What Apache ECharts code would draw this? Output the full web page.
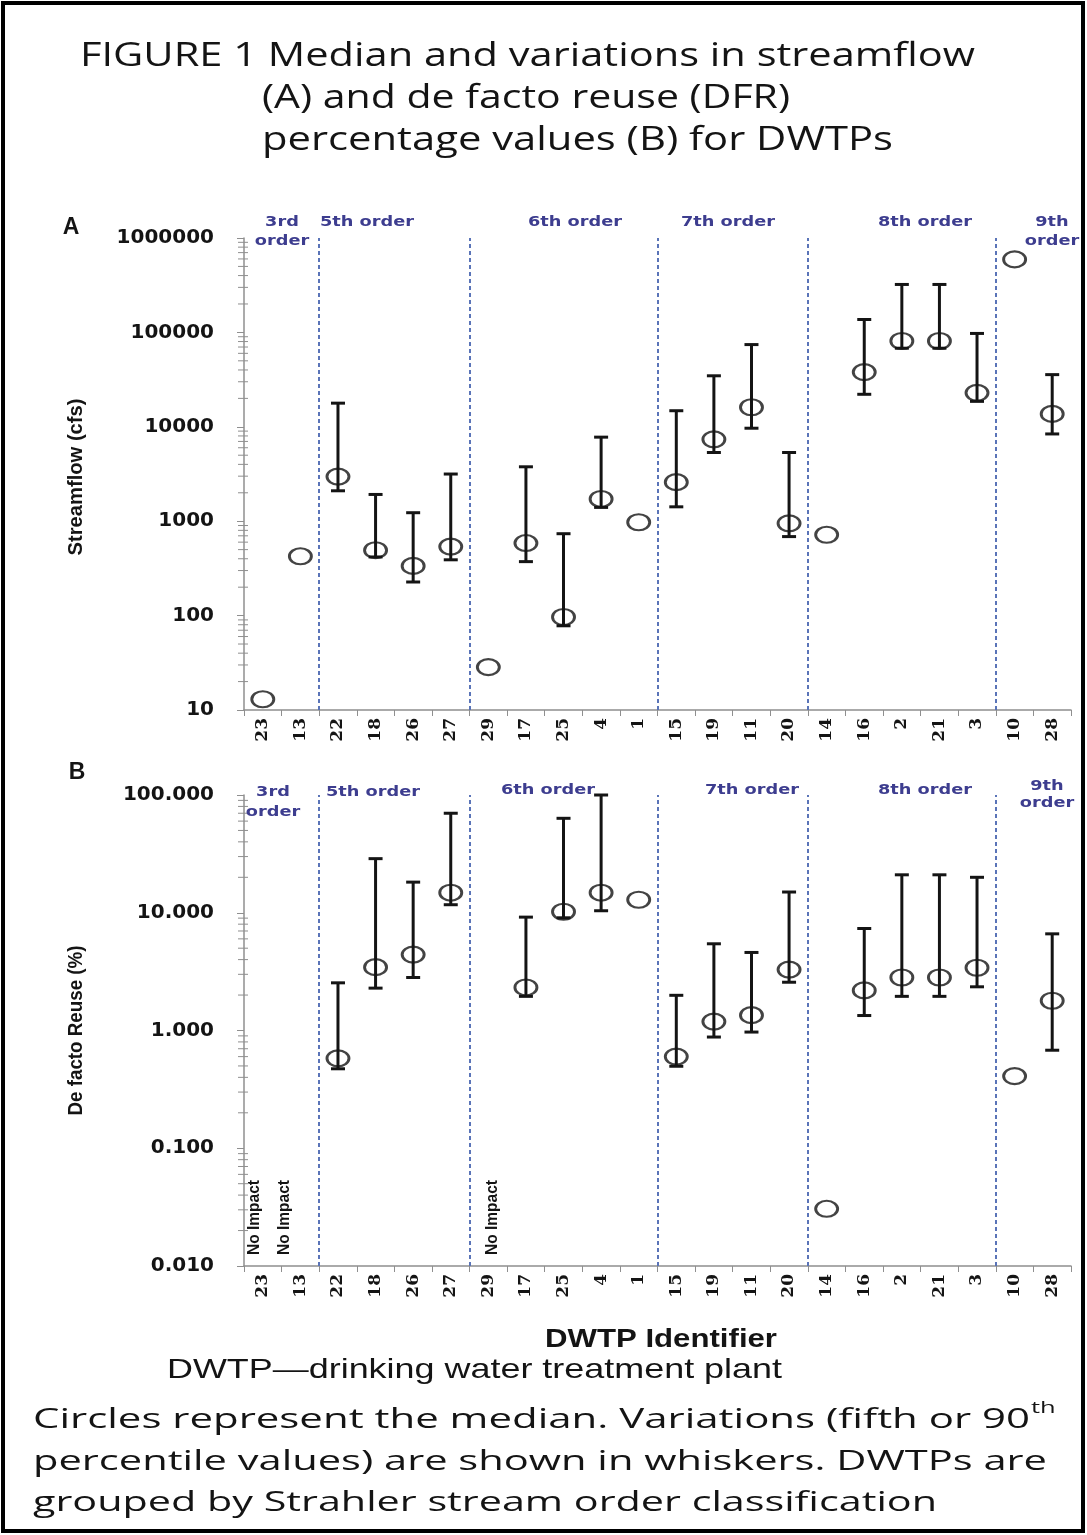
<!DOCTYPE html>
<html><head><meta charset="utf-8">
<script src="https://cdn.jsdelivr.net/npm/echarts@6/dist/echarts.min.js"></script>
<style>html,body{margin:0;padding:0;background:#fff}#chart{width:1087px;height:1535px}</style>
</head><body><div id="chart"></div>
<script>
// ---------- data ----------
const categories = ['23','13','22','18','26','27','29','17','25','4','1','15','19','11','20','14','16','2','21','3','10','28'];

const flowMedian = [13, 425, 2970, 493, 336, 538, 28.5, 587, 96.6, 1720, 975, 2590, 7360, 16100, 949, 718, 38000, 81100, 81100, 22900, 593000, 13700];
const flowLow    = [null, null, 2100, 418, 227, 390, null, 373, 78, 1400, null, 1420, 5340, 9660, 687, null, 22100, 68000, 68000, 18600, null, 8400];
const flowHigh   = [null, null, 17800, 1920, 1230, 3160, null, 3770, 737, 7770, null, 14800, 34700, 74300, 5340, null, 137000, 322000, 322000, 97500, null, 35700];

const dfrMedian = [null, null, 0.58, 3.45, 4.41, 14.8, null, 2.32, 10.2, 14.8, 12.9, 0.60, 1.19, 1.35, 3.29, 0.0306, 2.19, 2.82, 2.82, 3.41, 0.41, 1.79];
const dfrLow    = [null, null, 0.473, 2.29, 2.82, 11.7, null, 1.95, 9.06, 10.4, null, 0.497, 0.88, 0.97, 2.57, null, 1.34, 1.95, 1.95, 2.35, null, 0.68];
const dfrHigh   = [null, null, 2.54, 28.8, 18.2, 70, null, 9.18, 63.4, 100, null, 1.99, 5.45, 4.6, 15.0, null, 7.35, 21.0, 21.0, 20.0, null, 6.62];

const flowTicks = [10, 100, 1000, 10000, 100000, 1000000];
const dfrTicks  = [0.01, 0.1, 1, 10, 100];

const orderLabels = ['3rd\norder', '5th order', '6th order', '7th order', '8th order', '9th\norder'];
const orderSizes  = [2, 4, 5, 4, 5, 2];

// ---------- layout ----------
const GL = 244, GW = 827;
const gridA = {left: GL, top: 238, width: GW, height: 472};
const gridB = {left: GL, top: 795, width: GW, height: 471};

const breaks = [];
(function(){ let acc = 0; orderSizes.slice(0, -1).forEach(s => { acc += s; breaks.push(acc - 0.5); }); })();

function minorVals(ticks) {
  const out = [];
  for (let i = 0; i < ticks.length - 1; i++) for (let k = 2; k <= 9; k++) out.push([-0.5, +(ticks[i] * k).toPrecision(6)]);
  return out;
}
function rows(med, lo, hi) {
  const pts = [], wh = [];
  categories.forEach((c, i) => {
    if (med[i] != null) pts.push([i, med[i]]);
    if (lo[i] != null && hi[i] != null) wh.push([i, lo[i], hi[i]]);
  });
  return {pts, wh};
}
const A = rows(flowMedian, flowLow, flowHigh);
const B = rows(dfrMedian, dfrLow, dfrHigh);
const noImpact = [];
categories.forEach((c, i) => { if (dfrMedian[i] == null) noImpact.push([i, dfrTicks[0]]); });
const noImpactDx = {0: -8, 1: -16, 6: 4};

const AX = '#8f8f8f';
const INK = '#141414';
const BLUE = '#3d3d8f';

const meas = document.createElement('canvas').getContext('2d');
function measure(text, font) { meas.font = font; return meas.measureText(text).width; }

const NI_FONT = 'bold 17px "Liberation Sans", Arial, sans-serif';
const NI_SCALE = 75 / measure('No Impact', NI_FONT);

function whisker(params, api) {
  const x = api.value(0);
  const lo = api.coord([x, api.value(1)]);
  const hi = api.coord([x, api.value(2)]);
  const cw = 7, st = {stroke: INK, lineWidth: 3};
  return {type: 'group', children: [
    {type: 'line', shape: {x1: lo[0], y1: lo[1], x2: hi[0], y2: hi[1]}, style: st},
    {type: 'line', shape: {x1: hi[0] - cw, y1: hi[1], x2: hi[0] + cw, y2: hi[1]}, style: st},
    {type: 'line', shape: {x1: lo[0] - cw, y1: lo[1], x2: lo[0] + cw, y2: lo[1]}, style: st}
  ]};
}
function minorTick(params, api) {
  const p = api.coord([-0.5, api.value(1)]);
  return {type: 'line', shape: {x1: p[0] - 6, y1: p[1], x2: p[0] + 4, y2: p[1]}, style: {stroke: AX, lineWidth: 1}};
}
function noImpactText(params, api) {
  const i = api.value(0);
  const p = api.coord([i, api.value(1)]);
  return {type: 'text', x: p[0] + (noImpactDx[i] || 0), y: p[1] - 11, rotation: Math.PI / 2, scaleX: NI_SCALE,
    style: {text: 'No Impact', font: NI_FONT, fill: INK, align: 'left', verticalAlign: 'middle', textAlign: 'left', textVerticalAlign: 'middle'}};
}

function catAxis(gi) {
  return {gridIndex: gi, type: 'category', data: categories, boundaryGap: true,
    axisLine: {onZero: false, lineStyle: {color: AX, width: 1.5}},
    axisTick: {show: true, length: 6, lineStyle: {color: AX}},
    axisLabel: {rotate: 90, margin: 8, color: INK, fontFamily: '"DejaVu Serif", serif', fontWeight: 'bold', fontSize: 17},
    splitLine: {show: false}};
}
function valAxis(gi) {
  return {gridIndex: gi, type: 'value', min: -0.5, max: categories.length - 0.5, show: false};
}
function logAxis(gi, ticks, fmt) {
  return {gridIndex: gi, type: 'log', logBase: 10, min: ticks[0], max: ticks[ticks.length - 1], splitNumber: ticks.length - 1,
    axisLine: {show: true, onZero: false, lineStyle: {color: AX, width: 1.5}},
    axisTick: {show: true, length: 7, lineStyle: {color: AX}},
    axisLabel: {margin: 30, color: INK, fontFamily: '"DejaVu Sans", sans-serif', fontWeight: 'bold', fontSize: 20, formatter: fmt},
    splitLine: {show: false}};
}
const sepLine = {symbol: 'none', silent: true, label: {show: false},
  lineStyle: {color: '#5a74b8', width: 2, type: [4, 3]},
  data: breaks.map(b => ({xAxis: b}))};

function panelSeries(P, xi, yi, minors) {
  return [
    {type: 'custom', xAxisIndex: xi, yAxisIndex: yi, data: minors, renderItem: minorTick, clip: false, silent: true, z: 1, encode: {x: 0, y: 1}},
    {type: 'custom', xAxisIndex: xi, yAxisIndex: yi, data: P.wh, renderItem: whisker, encode: {x: 0, y: [1, 2]}, z: 3, silent: true},
    {type: 'scatter', xAxisIndex: xi, yAxisIndex: yi, data: P.pts, symbol: 'circle', symbolSize: [22, 16], z: 4, silent: true,
      itemStyle: {color: 'rgba(255,255,255,0)', borderColor: INK, borderWidth: 2.5}, markLine: sepLine}
  ];
}

// ---------- text / decoration ----------
function txt(x, y, text, font, opts) {
  opts = opts || {};
  const align = opts.align || 'left';
  const va = opts.va || 'middle';
  return {type: 'text', x: x, y: y, rotation: opts.rotation || 0, scaleX: opts.scaleX || 1, z: 10,
    style: {text: text, font: font, fill: opts.fill || INK, align: align, textAlign: align,
      verticalAlign: va, textVerticalAlign: va, lineHeight: opts.lineHeight}};
}
function fit(x, y, text, font, target, opts) {
  opts = Object.assign({}, opts || {});
  opts.scaleX = target / measure(text, font);
  return txt(x, y, text, font, opts);
}
const TITLE_F = '32px "Open Sans", Lato, sans-serif';
const CAP_F = '28px "Open Sans", Lato, sans-serif';
const NARROW_B = 'bold 25px "Liberation Sans", Arial, sans-serif';
const NARROW = '28px "Liberation Sans", Arial, sans-serif';
const YT_F = 'bold 20px "Liberation Sans", Arial, sans-serif';
const ORD = 'bold 14px "DejaVu Sans", sans-serif';
const ORD_S = 94 / measure('5th order', ORD);

const cap1 = 'Circles represent the median. Variations (fifth or 90';
const cap1Scale = 997 / measure(cap1, CAP_F);

const orderPosA = [[282, 222], [367, 222], [575, 222], [728, 222], [925, 222], [1052, 222]];
const orderPosB = [[273, 791], [373, 792], [548, 790], [752, 790], [925, 790], [1047, 787]];
const graphics = [
  {type: 'rect', shape: {x: 3, y: 3, width: 1080, height: 1528}, style: {fill: 'none', stroke: '#000', lineWidth: 4}, z: 0},
  fit(80, 57, 'FIGURE 1 Median and variations in streamflow', TITLE_F, 895),
  fit(262, 99, '(A) and de facto reuse (DFR)', TITLE_F, 528),
  fit(262, 141, 'percentage values (B) for DWTPs', TITLE_F, 631),
  txt(71, 228, 'A', 'bold 23px "Liberation Sans", Arial, sans-serif', {align: 'center'}),
  txt(77, 773, 'B', 'bold 23px "Liberation Sans", Arial, sans-serif', {align: 'center'}),
  fit(76, gridA.top + gridA.height / 2 + 3, 'Streamflow (cfs)', YT_F, 157, {align: 'center', rotation: Math.PI / 2}),
  fit(76, gridB.top + gridB.height / 2, 'De facto Reuse (%)', YT_F, 170, {align: 'center', rotation: Math.PI / 2}),
  fit(661, 1340, 'DWTP Identifier', NARROW_B, 232, {align: 'center'}),
  fit(167, 1370, 'DWTP\u2014drinking water treatment plant', NARROW, 615),
  txt(33, 1420, cap1, CAP_F, {scaleX: cap1Scale}),
  fit(33, 1462, 'percentile values) are shown in whiskers. DWTPs are', CAP_F, 1014),
  fit(33, 1503, 'grouped by Strahler stream order classification', CAP_F, 904),
  txt(33 + measure(cap1, CAP_F) * cap1Scale + 1, 1408, 'th', '17px "Open Sans", Lato, sans-serif', {scaleX: cap1Scale})
];
orderLabels.forEach((t, i) => {
  const two = t.indexOf('\n') >= 0;
  const o = {align: 'center', fill: BLUE, scaleX: ORD_S, va: two ? 'top' : 'middle'};
  graphics.push(txt(orderPosA[i][0], orderPosA[i][1] - (two ? 9 : 0), t, ORD, Object.assign({lineHeight: 19}, o)));
  graphics.push(txt(orderPosB[i][0], orderPosB[i][1] - (two ? 9 : 0), t, ORD, Object.assign({lineHeight: two && i === 0 ? 20 : 17}, o)));
});

const chart = echarts.init(document.getElementById('chart'), null, {renderer: 'canvas'});
chart.setOption({
  animation: false,
  backgroundColor: '#ffffff',
  grid: [gridA, gridB],
  xAxis: [catAxis(0), valAxis(0), catAxis(1), valAxis(1)],
  yAxis: [
    logAxis(0, flowTicks, v => String(Math.round(v))),
    logAxis(1, dfrTicks, v => Number(v).toFixed(3))
  ],
  series: [
    ...panelSeries(A, 1, 0, minorVals(flowTicks)),
    ...panelSeries(B, 3, 1, minorVals(dfrTicks)),
    {type: 'custom', xAxisIndex: 3, yAxisIndex: 1, data: noImpact, renderItem: noImpactText, encode: {x: 0, y: 1}, clip: false, silent: true, z: 5}
  ],
  graphic: graphics
});
</script>
</body></html>
